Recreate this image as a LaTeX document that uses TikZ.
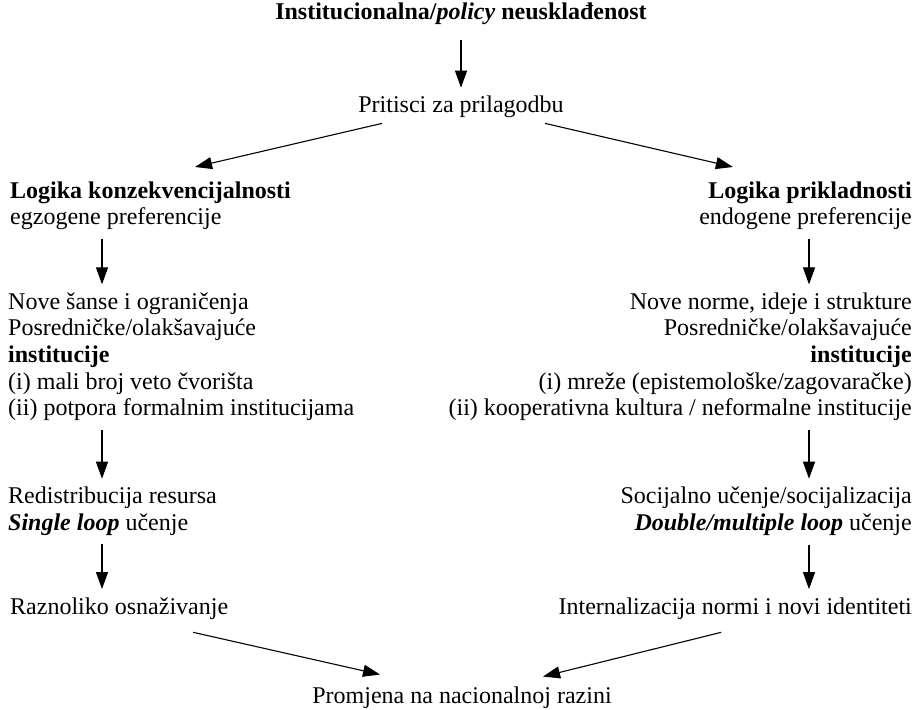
\documentclass[tikz,border=0pt]{standalone}
\usepackage{fontspec}
\setmainfont{Liberation Serif}
\usetikzlibrary{arrows.meta}

\begin{document}
\begin{tikzpicture}[x=1pt,y=-1pt]
\tikzstyle{txt} = [inner sep=0pt, font=\fontsize{24}{26.6}\selectfont]
\tikzstyle{flow} = [draw=black, line width=1.1pt, -{Triangle[length=17pt,width=12pt]}]
\tikzstyle{down} = [flow, shorten <=9pt, shorten >=8pt]

\useasboundingbox (0,0) rectangle (920,709);

\coordinate (lcol) at (102,0);
\coordinate (rcol) at (809,0);

\node[txt, anchor=base] (neusk) at (461,20) {\textbf{Institucionalna/\textit{policy} neusklađenost}};
\node[txt, anchor=base] (prit) at (461,112) {Pritisci za prilagodbu};
\node[txt, anchor=west, align=left] (lkons) at (10,205.9) {\textbf{Logika konzekvencijalnosti}\\egzogene preferencije};
\node[txt, anchor=east, align=right] (rprik) at (912,205.9) {\textbf{Logika prikladnosti}\\endogene preferencije};
\node[txt, anchor=west, align=left] (lsanse) at (8,356.7) {Nove šanse i ograničenja\\Posredničke/olakšavajuće\\\textbf{institucije}\\(i) mali broj veto čvorišta\\(ii) potpora formalnim institucijama};
\node[txt, anchor=east, align=right] (rnorme) at (912,356.7) {Nove norme, ideje i strukture\\Posredničke/olakšavajuće\\\textbf{institucije}\\(i) mreže (epistemološke/zagovaračke)\\(ii) kooperativna kultura / neformalne institucije};
\node[txt, anchor=west, align=left] (lredis) at (8,511.1) {Redistribucija resursa\\\textbf{\textit{Single loop}} učenje};
\node[txt, anchor=east, align=right] (rsoc) at (912,511.1) {Socijalno učenje/socijalizacija\\\textbf{\textit{Double/multiple loop}} učenje};
\node[txt, anchor=base west] (lrazn) at (10,614) {Raznoliko osnaživanje};
\node[txt, anchor=base east] (rint) at (912,614) {Internalizacija normi i novi identiteti};
\node[txt, anchor=base] (prom) at (462,703) {Promjena na nacionalnoj razini};

\draw[flow, shorten <=15pt, shorten >=7.5pt] (neusk) -- (prit);
\draw[flow] ([xshift=-79pt,yshift=-6pt]prit.south) -- ([xshift=44.5pt,yshift=14.5pt]lkons.north);
\draw[flow] ([xshift=84pt,yshift=-6pt]prit.south) -- ([xshift=-72.7pt,yshift=14.5pt]rprik.north);
\draw[down] (lkons.south -| lcol) -- (lsanse.north -| lcol);
\draw[down] (rprik.south -| rcol) -- (rnorme.north -| rcol);
\draw[down] (lsanse.south -| lcol) -- (lredis.north -| lcol);
\draw[down] (rnorme.south -| rcol) -- (rsoc.north -| rcol);
\draw[down] (lredis.south -| lcol) -- (lrazn.north -| lcol);
\draw[down] (rsoc.south -| rcol) -- (rint.north -| rcol);
\draw[flow] ([xshift=74pt,yshift=-13pt]lrazn.south) -- ([xshift=-82pt,yshift=11.6pt]prom.north);
\draw[flow] ([xshift=-14pt,yshift=-13pt]rint.south) -- ([xshift=81pt,yshift=9.6pt]prom.north);
\end{tikzpicture}
\end{document}
